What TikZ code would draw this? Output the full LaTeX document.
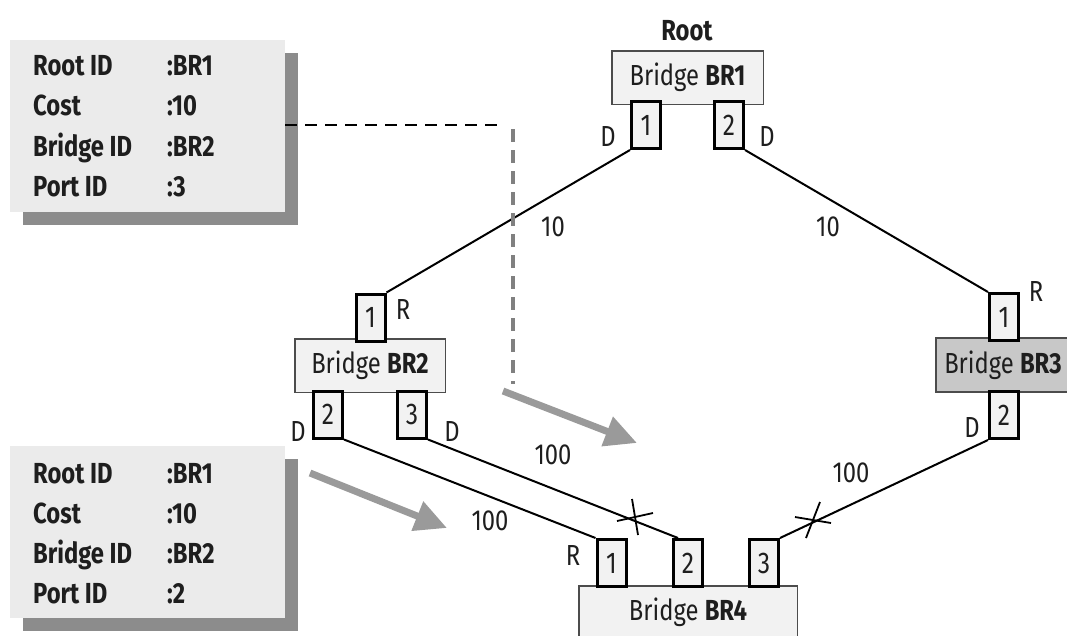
\documentclass[tikz,border=0pt]{standalone}
\usepackage{fontspec}
\setmainfont{Fira Sans}[FakeStretch=0.82]
\usetikzlibrary{arrows.meta,calc}
\definecolor{portfill}{HTML}{F2F2F2}
\definecolor{infofill}{HTML}{EBEBEB}
\definecolor{shadowc}{HTML}{8C8C8C}
\definecolor{br3fill}{HTML}{C8C8C8}
\definecolor{arrowc}{HTML}{9A9A9A}
\definecolor{txt}{HTML}{1E1E1E}
\tikzset{
  portbox/.style={draw=black, line width=3pt, fill=portfill, minimum width=29pt, minimum height=47pt, inner sep=0pt, text=txt, font=\fontsize{30}{30}\selectfont},
  bridgebox/.style={draw=black!70, line width=1.5pt, fill=portfill, inner sep=0pt, text=txt, font=\fontsize{29}{29}\selectfont},
  lbl/.style={inner sep=0pt, text=txt, font=\fontsize{29}{29}\selectfont},
  infotext/.style={inner sep=0pt, anchor=base west, text=txt, font=\bfseries\fontsize{29}{29}\selectfont},
  link/.style={line width=2pt, draw=black},
  infobox/.style={fill=infofill, draw=none, minimum width=275pt, minimum height=172pt, inner sep=0pt},
  shadowbox/.style={fill=shadowc, draw=none, minimum width=275pt, minimum height=172pt, inner sep=0pt},
  bigarrow/.style={draw=arrowc, line width=7pt, -{Triangle[length=32pt,width=30pt]}},
  crossmark/.style={line width=1.8pt, draw=black}
}
\begin{document}
\begin{tikzpicture}[x=1pt,y=-1pt]
\useasboundingbox (0,0) rectangle (1067,635);
\clip (0,0) rectangle (1067,635);

% info boxes
\node[shadowbox] (box1s) at (160.5,139) {};
\node[infobox] (box1) at (147.5,126) {};
\node[shadowbox] (box2s) at (160.5,545) {};
\node[infobox] (box2) at (147.5,532) {};

\node[infotext] (a1) at (33,75) {Root ID};
\node[infotext] (a2) at (33,115.5) {Cost};
\node[infotext] (a3) at (33,156) {Bridge ID};
\node[infotext] (a4) at (33,196.5) {Port ID};
\node[infotext] (v1) at (167,75) {:BR1};
\node[infotext] (v2) at (167,115.5) {:10};
\node[infotext] (v3) at (167,156) {:BR2};
\node[infotext] (v4) at (167,196.5) {:3};

\node[infotext] (b1) at (33,483) {Root ID};
\node[infotext] (b2) at (33,523) {Cost};
\node[infotext] (b3) at (33,563) {Bridge ID};
\node[infotext] (b4) at (33,603) {Port ID};
\node[infotext] (w1) at (167,483) {:BR1};
\node[infotext] (w2) at (167,523) {:10};
\node[infotext] (w3) at (167,563) {:BR2};
\node[infotext] (w4) at (167,603) {:2};

% bridges
\node[lbl, font=\bfseries\fontsize{29}{29}\selectfont] (root) at (687,31) {Root};
\node[bridgebox, minimum width=151.5pt, minimum height=53.5pt] (br1) at (687.5,77.5) {Bridge \textbf{BR1}};
\node[bridgebox, minimum width=150.5pt, minimum height=53.5pt] (br2) at (370,365.5) {Bridge \textbf{BR2}};
\node[bridgebox, fill=br3fill, minimum width=134pt, minimum height=54pt] (br3) at (1003,365) {Bridge \textbf{BR3}};
\node[bridgebox, minimum width=218.5pt, minimum height=52pt] (br4) at (688,612) {Bridge \textbf{BR4}};

% ports
\node[portbox] (p11) at (646,125) {1};
\node[portbox] (p12) at (729,125) {2};
\node[portbox] (p21) at (370.5,317.5) {1};
\node[portbox] (p22) at (328,414.5) {2};
\node[portbox] (p23) at (412,414.5) {3};
\node[portbox] (p31) at (1004,317) {1};
\node[portbox] (p32) at (1004,415) {2};
\node[portbox] (p41) at (611.5,563) {1};
\node[portbox] (p42) at (688,563) {2};
\node[portbox] (p43) at (764,563) {3};

% port role labels
\node[lbl] (d11) at (608,137) {D};
\node[lbl] (d12) at (767,137) {D};
\node[lbl] (r21) at (403,310) {R};
\node[lbl] (d22) at (298,432) {D};
\node[lbl] (d23) at (452,432) {D};
\node[lbl] (r31) at (1036,292) {R};
\node[lbl] (d32) at (972,427) {D};
\node[lbl] (r41) at (573,555) {R};

% links
\draw[link] (p11.south west) -- (p21.north east);
\draw[link] (p12.south east) -- (p31.north west);
\draw[link] (p22.south east) -- (p41.north west);
\draw[link] (p23.south east) -- ([xshift=6pt]p42.north west);
\draw[link] (p32.south west) -- (p43.north east);

% costs
\node[lbl] (c1) at (553,227) {10};
\node[lbl] (c2) at (828,227) {10};
\node[lbl] (c3) at (553,455) {100};
\node[lbl] (c4) at (490,521) {100};
\node[lbl] (c5) at (851,473) {100};

% blocked marks
\coordinate (x1) at (635,517);
\coordinate (x2) at (813,520);
\draw[crossmark] ($(x1)+(-18,4)$) -- ($(x1)+(18,-4)$);
\draw[crossmark] ($(x1)+(-3,-18)$) -- ($(x1)+(3,18)$);
\draw[crossmark] ($(x2)+(-18,-3)$) -- ($(x2)+(18,3)$);
\draw[crossmark] ($(x2)+(-7,18)$) -- ($(x2)+(7,-18)$);

% dashed path from the BPDU box
\coordinate (dc) at (503,125);
\coordinate (vs) at (513,129);
\coordinate (ve) at (513,384);
\draw[line width=2pt, dash pattern=on 12pt off 8pt] (box1.east |- dc) -- (dc);
\draw[line width=4.5pt, draw=black!50, dash pattern=on 13pt off 8pt] (vs) -- (ve);

% gray arrows
\coordinate (g1s) at (503,391);
\coordinate (g1e) at (637,443);
\coordinate (g2s) at (310,473);
\coordinate (g2e) at (447,528);
\draw[bigarrow] (g1s) -- (g1e);
\draw[bigarrow] (g2s) -- (g2e);
\end{tikzpicture}
\end{document}
